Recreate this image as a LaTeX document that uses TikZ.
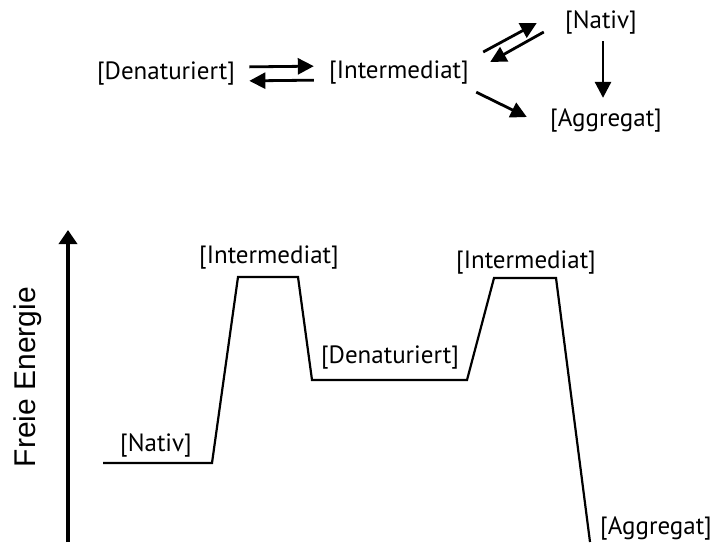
\documentclass[tikz,border=0pt]{standalone}
\usepackage{fontspec}
\setmainfont{PT Sans}
\newfontfamily\axisfont{Liberation Sans}
\usetikzlibrary{arrows.meta, positioning}
\tikzset{
  species/.style={inner sep=0pt, font=\fontsize{12.5}{15}\selectfont},
  rxn/.style={-{Triangle[length=8pt, width=8pt]}, line width=1.4pt},
  level/.style={line width=1.1pt, line join=miter},
}

\begin{document}
\begin{tikzpicture}[x=0.5pt, y=-0.5pt]
  \useasboundingbox (0,0) rectangle (715,542);
  % Gleichgewichte oben
  \node[species] (den) at (166,74) {[Denaturiert]};
  \node[species] (int) at (399,73) {[Intermediat]};
  \node[species] (nat) at (601,22) {[Nativ]};
  \node[species] (agg) at (606,120) {[Aggregat]};
  \draw[rxn, shorten <=7pt, shorten >=7.5pt] ([yshift=3.5pt]den.east) -- ([yshift=3.5pt]int.west);
  \draw[rxn, shorten <=7.5pt, shorten >=7pt] ([yshift=-3.5pt]int.west) -- ([yshift=-3.5pt]den.east);
  \draw[rxn] ([xshift=7pt, yshift=10.5pt]int.east) -- ([xshift=-14pt, yshift=-0.5pt]nat.west);
  \draw[rxn] ([xshift=-10.5pt, yshift=-5pt]nat.west) -- ([xshift=10.5pt, yshift=5.5pt]int.east);
  \draw[rxn, shorten <=3.5pt, shorten >=5pt] ([xshift=1pt]nat.south) -- ([xshift=1pt]nat.south |- agg.north);
  \draw[rxn] ([xshift=3.5pt, yshift=-3.5pt]int.south east) -- ([xshift=-11.5pt, yshift=1.5pt]agg.west);
  % Energieprofil unten
  \coordinate (e0) at (68,542);
  \coordinate (e1) at (68,230);
  \draw[line width=2.4pt, -{Triangle[length=7pt, width=9pt]}] (e0) -- (e1);
  \node[rotate=90, inner sep=0pt, font=\axisfont\fontsize{15}{18}\selectfont] (energie) at (28,377) {Freie Energie};
  \draw[level] (103,463) -- (212,463) -- (238,277) -- (298,277) -- (312,380)
    -- (467,380) -- (494,278) -- (556,278) -- (590,542);
  \node[species] (lnat) at (156,445) {[Nativ]};
  \node[species] (lint) at (269,258) {[Intermediat]};
  \node[species] (lden) at (390,358) {[Denaturiert]};
  \node[species] (lint2) at (526,263) {[Intermediat]};
  \node[species] (lagg) at (656,528) {[Aggregat]};
\end{tikzpicture}
\end{document}
